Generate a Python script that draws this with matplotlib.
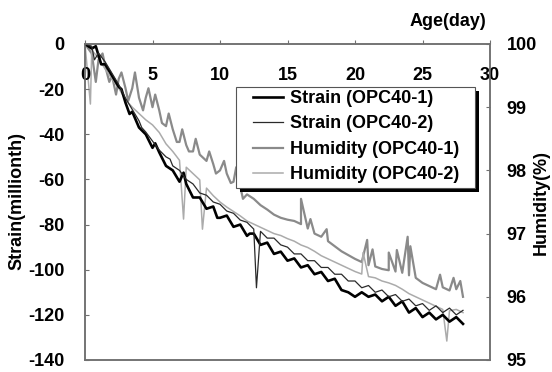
import numpy as np
import matplotlib
matplotlib.use('Agg')
import matplotlib.pyplot as plt
from matplotlib.patches import Rectangle

plt.rcParams['font.family'] = ['Liberation Sans', 'DejaVu Sans']
plt.rcParams['font.weight'] = 'bold'
plt.rcParams['axes.unicode_minus'] = False

# Datos (paso de medio dia)
days = [0, 0.5, 1, 1.5, 2, 2.5, 3, 3.5, 4, 4.5, 5, 5.5, 6, 6.5, 7, 7.5, 8, 8.5, 9, 9.5,
        10, 10.5, 11, 11.5, 12, 12.5, 13, 13.5, 14, 14.5, 15, 15.5, 16, 16.5, 17, 17.5,
        18, 18.5, 19, 19.5, 20, 20.5, 21, 21.5, 22, 22.5, 23, 23.5, 24, 24.5, 25, 25.5,
        26, 26.5, 27, 27.5, 28]

strain_1 = [0, -2, -5, -9, -14, -19, -26, -30, -37, -40, -46, -48, -54, -56, -61, -62,
            -68, -68, -73, -72, -77, -76, -81, -80, -85, -84, -89, -88, -93, -92, -96, -95,
            -99, -98, -102, -101, -105, -104, -109, -110, -112, -110, -112, -111, -114, -112,
            -116, -114, -119, -117, -121, -119, -122, -120, -123, -121, -124]

strain_2 = [0, -1, -4, -8, -13, -18, -24, -29, -34, -39, -43, -47, -50, -54, -56, -60,
            -62, -66, -67, -70, -71, -74, -75, -78, -79, -82, -83, -86, -86, -89, -90, -93,
            -93, -96, -96, -99, -99, -102, -102, -105, -105, -108, -107, -110, -109, -112,
            -111, -114, -113, -116, -115, -118, -116, -119, -117, -120, -118]

hum_1 = [100.0, 99.85, 99.75, 99.65, 99.5, 99.45, 99.3, 99.3, 99.15, 99.15, 99.0, 98.95,
         98.7, 98.65, 98.45, 98.4, 98.3, 98.25, 98.15, 98.1, 98.0, 97.95, 97.82, 97.75,
         97.62, 97.55, 97.45, 97.38, 97.3, 97.25, 97.22, 97.2, 97.15, 97.08, 97.0, 96.95,
         96.88, 96.8, 96.72, 96.66, 96.6, 96.55, 96.5, 96.48, 96.44, 96.42, 96.4, 96.38,
         96.34, 96.3, 96.22, 96.17, 96.12, 96.15, 96.1, 96.12, 96.0]

hum_2 = [100.0, 99.9, 99.78, 99.6, 99.45, 99.3, 99.12, 99.0, 98.9, 98.8, 98.72, 98.6,
         98.42, 98.3, 98.16, 98.05, 97.95, 97.85, 97.72, 97.6, 97.5, 97.42, 97.35, 97.28,
         97.2, 97.15, 97.1, 97.05, 97.0, 96.97, 96.92, 96.88, 96.82, 96.78, 96.72, 96.65,
         96.6, 96.55, 96.5, 96.45, 96.4, 96.36, 96.32, 96.3, 96.25, 96.22, 96.18, 96.12,
         96.05, 96.0, 95.95, 95.9, 95.85, 95.8, 95.78, 95.8, 95.75]

# picos y ruido sueltos
strain_1_spike_days = [0.8, 1.2, 2.7, 3.3, 5.2, 7.3, 9.8, 12.2]
strain_1_spike_vals = [-1, -9, -20, -31, -44, -57, -77, -84]
strain_2_spike_days = [0.7, 4.2, 6.3, 12.7]
strain_2_spike_vals = [-7, -37, -51, -108]
hum_1_spike_days = [0.8, 1.3, 1.8, 2.3, 2.7, 3.2, 3.7, 4.3, 4.7, 5.2, 5.7, 6.2, 6.8, 7.2,
                    7.7, 8.2, 9.2, 9.7, 10.3, 10.8, 11.2, 11.7, 16.0, 16.7, 17.9, 20.9,
                    21.3, 22.5, 23.1, 23.9, 24.1, 26.3, 27.3, 27.8]
hum_1_spike_vals = [99.4, 99.85, 99.4, 99.2, 99.55, 99.1, 99.55, 98.95, 99.3, 99.2, 98.75,
                    98.9, 98.45, 98.65, 98.3, 98.5, 98.3, 97.95, 98.15, 97.8, 98.05, 97.55,
                    97.55, 97.23, 97.07, 96.9, 96.75, 96.7, 96.74, 96.95, 96.8, 96.35,
                    96.3, 96.25]
hum_2_spike_days = [0.4, 7.3, 8.7, 20.6, 26.8]
hum_2_spike_vals = [99.05, 97.23, 97.07, 96.7, 95.3]


def with_spikes(x, y, sx, sy):
    xx = np.concatenate([x, sx])
    yy = np.concatenate([y, sy])
    order = np.argsort(xx, kind='stable')
    return xx[order], yy[order]


fig = plt.figure(figsize=(5.52, 3.72), dpi=100)
ax = fig.add_axes([85/552, 12/372, 405/552, 316/372])
ax2 = ax.twinx()

x1, y1 = with_spikes(days, strain_1, strain_1_spike_days, strain_1_spike_vals)
x2, y2 = with_spikes(days, strain_2, strain_2_spike_days, strain_2_spike_vals)
x3, y3 = with_spikes(days, hum_1, hum_1_spike_days, hum_1_spike_vals)
x4, y4 = with_spikes(days, hum_2, hum_2_spike_days, hum_2_spike_vals)

l3, = ax2.plot(x3, y3, color='#8a8a8a', lw=1.6, label='Humidity (OPC40-1)')
l4, = ax2.plot(x4, y4, color='#ababab', lw=1.1, label='Humidity (OPC40-2)')
l1, = ax.plot(x1, y1, color='black', lw=1.9, label='Strain (OPC40-1)')
l2, = ax.plot(x2, y2, color='#2a2a2a', lw=0.9, label='Strain (OPC40-2)')
ax.set_zorder(ax2.get_zorder() + 1)
ax.patch.set_visible(False)

ax.set_xlim(0, 30)
ax.set_ylim(-140, 0)
ax2.set_ylim(95, 100)
ax.set_xticks([0, 5, 10, 15, 20, 25, 30])
ax.set_yticks(range(-140, 1, 20))
ax2.set_yticks([95, 96, 97, 98, 99, 100])

fs = 13
ax.xaxis.tick_top()
ax.tick_params(axis='x', direction='out', length=3, pad=-31.5, labelsize=fs,
               color='#707070')
ax.tick_params(axis='y', direction='in', length=3, pad=15, labelsize=fs, color='#707070')
ax2.tick_params(axis='y', direction='in', length=3, pad=12, labelsize=fs, color='#707070')
for a in (ax, ax2):
    for sp in a.spines.values():
        sp.set_color('#707070')
        sp.set_linewidth(1.1)
    for t in a.get_xticklabels() + a.get_yticklabels():
        t.set_fontweight('bold')

fig.text(17/552, 1 - 201/372, 'Strain(millionth)', rotation=90, ha='center',
         va='center', fontsize=fs, fontweight='bold')
fig.text(541/552, 1 - 203/372, 'Humidity(%)', rotation=90, ha='center',
         va='center', fontsize=fs, fontweight='bold')
fig.text(486/552, 1 - 22/372, 'Age(day)', ha='right', va='center', fontsize=fs,
         fontweight='bold')

# recuadro de la leyenda con sombra negra
W, H = 552, 372
fig.add_artist(Rectangle((240/W, 1 - 192/H), 239/W, 101/H, transform=fig.transFigure,
                         facecolor='black', edgecolor='none', zorder=9))
fig.add_artist(Rectangle((236/W, 1 - 188/H), 239/W, 101/H, transform=fig.transFigure,
                         facecolor='white', edgecolor='#555555', lw=0.8, zorder=9.5))

leg = fig.legend([l1, l2, l3, l4], [h.get_label() for h in (l1, l2, l3, l4)],
                 loc='upper left', bbox_to_anchor=(253/W, 1 - 90/H),
                 bbox_transform=fig.transFigure, borderaxespad=0, borderpad=0,
                 frameon=False, handlelength=1.66, handletextpad=0.39,
                 labelspacing=0.47, prop={'size': fs, 'weight': 'bold'})
leg.set_zorder(10)

fig.savefig('out.png', dpi=100)
